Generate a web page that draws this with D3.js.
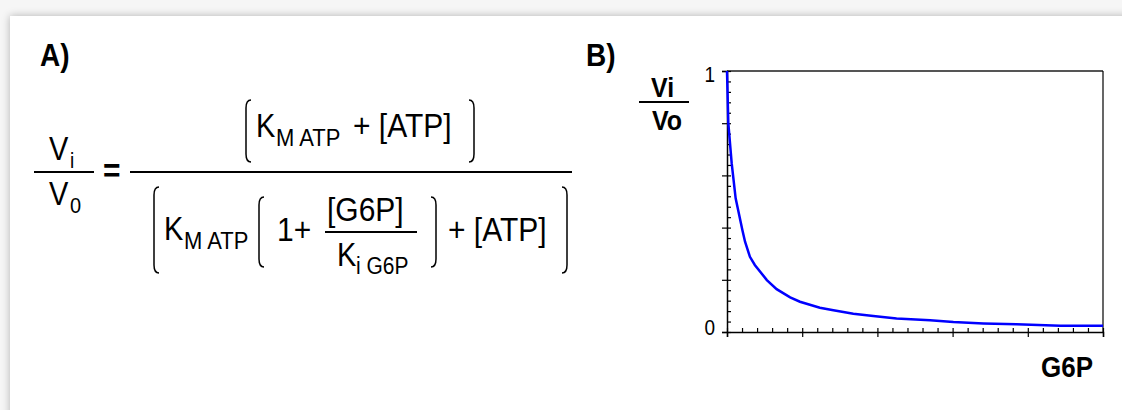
<!DOCTYPE html>
<html>
<head>
<meta charset="utf-8">
<script src="https://cdn.jsdelivr.net/npm/d3@7"></script>
<style>
  html, body { margin: 0; padding: 0; background: #f6f6f6; overflow: hidden; }
  .card {
    position: absolute; left: 10px; top: 16px; width: 1200px; height: 500px;
    background: #fff; box-shadow: 0 0 8px rgba(0,0,0,0.28);
  }
  svg { position: absolute; left: 0; top: 0; }
  text { font-family: "Liberation Sans", Arial, Helvetica, sans-serif; fill: #000; }
</style>
</head>
<body>
<div class="card"></div>
<div id="chart"></div>
<script>
const WIDTH = 1122;
const HEIGHT = 410;
const STRETCH = 1.12; // the source glyphs are a little taller than Arial

// values
const g6p = [0, 0.035, 0.125, 0.23, 0.41, 0.48, 0.61, 0.74, 1.06, 1.32, 1.68, 1.94, 2.47, 2.83, 3.36, 3.89, 4.51, 5.40, 6.02, 6.82, 7.70, 8.86, 10];
const ratio = [1.0, 0.80, 0.646, 0.512, 0.39, 0.346, 0.288, 0.257, 0.199, 0.164, 0.133, 0.116, 0.093, 0.083, 0.070, 0.061, 0.052, 0.045, 0.038, 0.033, 0.030, 0.024, 0.024];
const yMajor = [0, 0.2, 0.4, 0.6, 0.8, 1];
const yLabels = ["0", "", "", "", "", "1"];
const xMajor = [0, 2, 4, 6, 8, 10];

const svg = d3.select('#chart')
    .append('svg')
    .attr('width', WIDTH)
    .attr('height', HEIGHT);

// ---------- helpers for the formula ----------
const txt = (x, y, s, size, weight) => svg.append("text")
    .attr("transform", `translate(${x},${y}) scale(1,${STRETCH})`)
    .attr("font-size", size)
    .attr("font-weight", weight || "normal")
    .text(s);

const hline = (x1, x2, y, w) => svg.append("line")
    .attr("x1", x1).attr("x2", x2).attr("y1", y).attr("y2", y)
    .attr("stroke", "#000").attr("stroke-width", w || 2);

// tall thin parenthesis, side = 1 left, -1 right
const paren = (x, y0, y1, side) => {
    const h = 5 * side;
    svg.append("path")
        .attr("d", `M${x + h},${y0} Q${x},${y0} ${x},${y0 + 8} L${x},${y1 - 8} Q${x},${y1} ${x + h},${y1}`)
        .attr("fill", "none")
        .attr("stroke", "#000")
        .attr("stroke-width", 1.5);
};

// ---------- panel A ----------
txt(40, 66, "A)", 28, "bold");

// V_i / V_0
txt(49, 160, "V", 29);
txt(70, 168, "i", 19);
hline(34, 94, 172);
txt(49, 205, "V", 29);
txt(70, 213, "0", 20);

txt(103, 182, "=", 30, "bold");
hline(130, 572, 172);

// numerator
paren(246, 100, 162, 1);
txt(256, 137, "K", 29);
txt(276, 146, "M ATP", 22);
txt(353, 137, "+ [ATP]", 30);
paren(474, 100, 162, -1);

// denominator
paren(154, 187, 273, 1);
txt(164, 240, "K", 29);
txt(184, 249, "M ATP", 22);
paren(259, 197, 267, 1);
txt(277, 241, "1+", 30);
txt(327, 221, "[G6P]", 30);
hline(325, 417, 232);
txt(337, 266, "K", 29);
txt(356, 274, "i G6P", 21);
paren(436, 197, 267, -1);
txt(448, 241, "+ [ATP]", 30);
paren(567, 187, 273, -1);

// ---------- panel B ----------
txt(586, 66, "B)", 28, "bold");

txt(651, 97, "Vi", 25, "bold");
hline(639, 689, 102);
txt(652, 130, "Vo", 25, "bold");

const x = d3.scaleLinear().domain([0, 10]).range([727, 1103]);
const y = d3.scaleLinear().domain([0, 1]).range([332, 71]);

// frame: top grey, right black
svg.append("line")
    .attr("x1", x(0)).attr("x2", x(10)).attr("y1", y(1)).attr("y2", y(1))
    .attr("stroke", "#555").attr("stroke-width", 2);
svg.append("line")
    .attr("x1", x(10)).attr("x2", x(10)).attr("y1", y(1)).attr("y2", y(0))
    .attr("stroke", "#000").attr("stroke-width", 1.2);

// y axis: minor ticks inside, major outside
svg.append("g")
    .attr("transform", `translate(${x(0)},0)`)
    .call(d3.axisLeft(y).tickValues(d3.range(0, 1.001, 0.04)).tickSize(-4).tickFormat(""))
    .call(g => g.select(".domain").remove());
svg.append("g")
    .attr("transform", `translate(${x(0)},0)`)
    .call(d3.axisLeft(y).tickValues(yMajor).tickSizeOuter(0).tickSize(5).tickFormat(""));

// x axis
svg.append("g")
    .attr("transform", `translate(0,${y(0)})`)
    .call(d3.axisBottom(x).tickValues(d3.range(0, 10.001, 0.4)).tickSize(-4).tickFormat(""))
    .call(g => g.select(".domain").remove());
svg.append("g")
    .attr("transform", `translate(0,${y(0)})`)
    .call(d3.axisBottom(x).tickValues(xMajor).tickSizeOuter(0).tickSize(5).tickFormat(""));

svg.selectAll(".tick line").attr("stroke", "#000").attr("stroke-width", 1.2);
svg.selectAll(".domain").attr("stroke", "#000").attr("stroke-width", 1.5);

// tick labels only at 0 and 1
svg.selectAll(".ylab")
    .data(yMajor.filter((d, i) => yLabels[i] !== ""))
    .enter()
    .append("text")
    .attr("class", "ylab")
    .attr("transform", d => `translate(715,${y(d) + (d === 1 ? 11 : 3)}) scale(1,${STRETCH})`)
    .attr("text-anchor", "end")
    .style("font-size", "19px")
    .text(d => yLabels[yMajor.indexOf(d)]);

// curve
const line = d3.line()
    .x((d, i) => x(g6p[i]))
    .y(d => y(d));

svg.append("path")
    .datum(ratio)
    .attr("d", line)
    .attr("fill", "none")
    .attr("stroke", "#0000ff")
    .attr("stroke-width", 2.5);

txt(1093, 377, "G6P", 26, "bold").attr("text-anchor", "end");
</script>
</body>
</html>
